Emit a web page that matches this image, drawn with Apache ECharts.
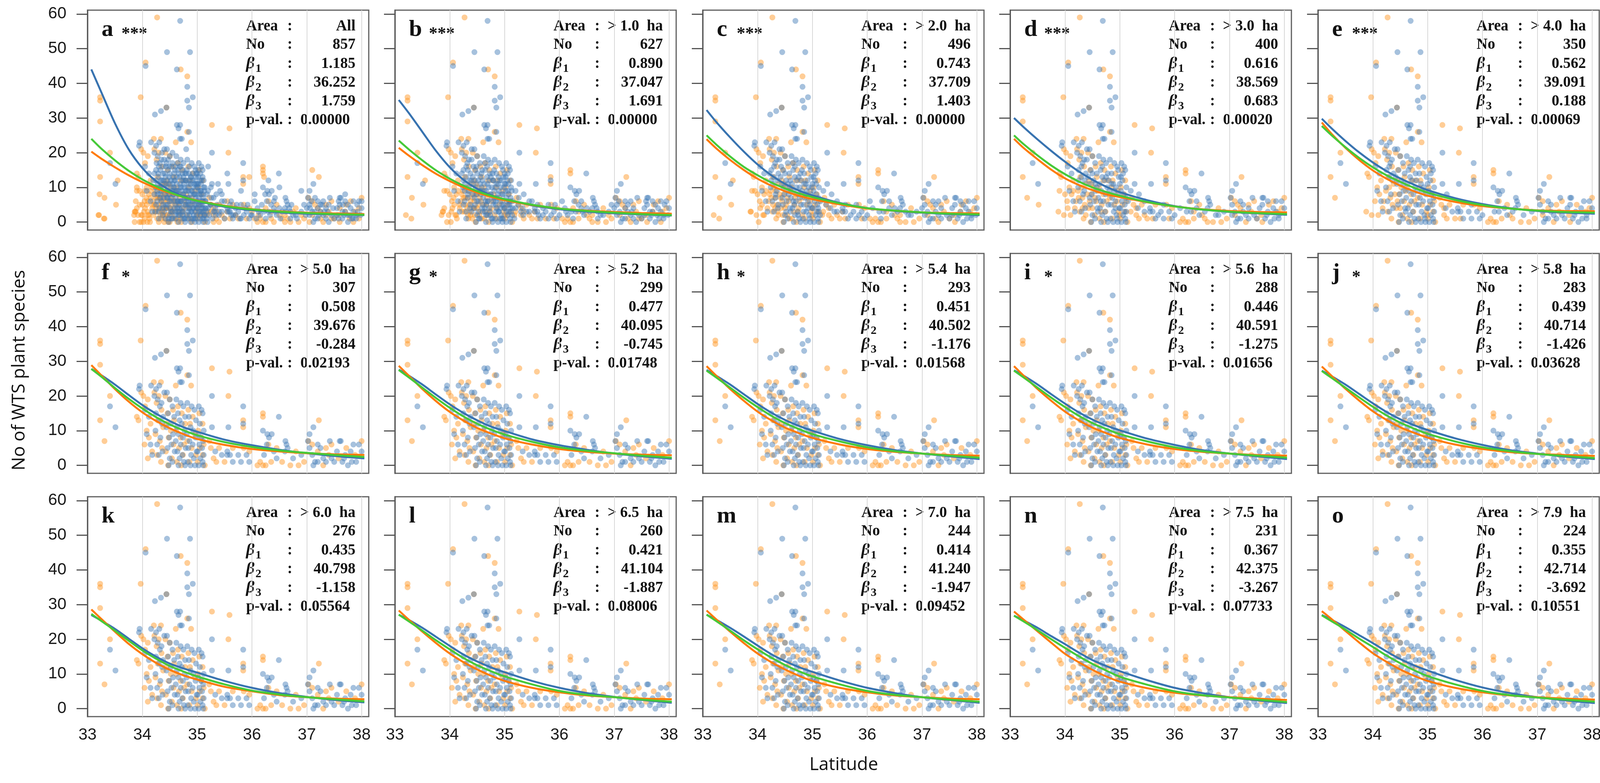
<!DOCTYPE html>
<html>
<head>
<meta charset="utf-8">
<script src="https://cdn.jsdelivr.net/npm/echarts@6/dist/echarts.min.js"></script>
<style>
html, body { margin: 0; padding: 0; background: #fff; }
#chart { width: 4124px; height: 2005px; }
</style>
</head>
<body>
<div id="chart"></div>
<script>
// panel texts
var panelLetters = ['a', 'b', 'c', 'd', 'e', 'f', 'g', 'h', 'i', 'j', 'k', 'l', 'm', 'n', 'o'];
var panelStars = ['***', '***', '***', '***', '***', '*', '*', '*', '*', '*', '', '', '', '', ''];
var areaLabels = ['All', '> 1.0  ha', '> 2.0  ha', '> 3.0  ha', '> 4.0  ha', '> 5.0  ha', '> 5.2  ha', '> 5.4  ha',
	'> 5.6  ha', '> 5.8  ha', '> 6.0  ha', '> 6.5  ha', '> 7.0  ha', '> 7.5  ha', '> 7.9  ha'];
var plotCounts = ['857', '627', '496', '400', '350', '307', '299', '293', '288', '283', '276', '260', '244', '231', '224'];
var beta1 = ['1.185', '0.890', '0.743', '0.616', '0.562', '0.508', '0.477', '0.451', '0.446', '0.439', '0.435', '0.421', '0.414', '0.367', '0.355'];
var beta2 = ['36.252', '37.047', '37.709', '38.569', '39.091', '39.676', '40.095', '40.502', '40.591', '40.714', '40.798', '41.104', '41.240', '42.375', '42.714'];
var beta3 = ['1.759', '1.691', '1.403', '0.683', '0.188', '-0.284', '-0.745', '-1.176', '-1.275', '-1.426', '-1.158', '-1.887', '-1.947', '-3.267', '-3.692'];
var pValues = ['0.00000', '0.00000', '0.00000', '0.00020', '0.00069', '0.02193', '0.01748', '0.01568', '0.01656', '0.03628', '0.05564', '0.08006', '0.09452', '0.07733', '0.10551'];

// axes
var xTicks = [33, 34, 35, 36, 37, 38];
var yTicks = [0, 10, 20, 30, 40, 50, 60];

// fitted curves at these latitudes
var fitLat = [33.07, 33.25, 33.5, 33.75, 34, 34.25, 34.5, 34.75, 35, 35.5, 36, 36.5, 37, 37.5, 38.05];
var fitBlue = [
	[44, 37.5, 28.5, 21, 15.6, 11.8, 9.2, 7.4, 6.1, 4.4, 3.4, 2.8, 2.4, 2.2, 2.0],
	[35.2, 31.5, 26, 20.5, 15.8, 12.2, 9.6, 7.8, 6.5, 4.8, 3.7, 3.0, 2.5, 2.2, 1.9],
	[32.3, 28.8, 24.4, 20.3, 16.6, 13.5, 11.0, 9.1, 7.7, 5.5, 4.0, 3.2, 2.7, 2.3, 2.0],
	[30, 27.3, 23.8, 20.5, 17.4, 14.6, 12.2, 10.2, 8.6, 6.3, 4.6, 3.6, 2.9, 2.5, 2.1],
	[29.8, 27, 23.4, 20.1, 17.2, 14.7, 12.6, 10.8, 9.2, 6.9, 5.2, 4.0, 3.2, 2.7, 2.4],
	[27.8, 26, 23.3, 20.3, 17.4, 14.9, 12.8, 11.0, 9.7, 7.4, 5.8, 4.5, 3.5, 2.7, 2.0],
	[27.6, 25.9, 23.3, 20.4, 17.6, 15.1, 13.0, 11.2, 9.9, 7.5, 5.8, 4.5, 3.4, 2.6, 1.9],
	[27.5, 25.8, 23.3, 20.5, 17.7, 15.2, 13.1, 11.4, 10.0, 7.6, 5.8, 4.4, 3.4, 2.6, 1.8],
	[27.4, 25.8, 23.3, 20.5, 17.8, 15.3, 13.2, 11.5, 10.1, 7.7, 5.9, 4.4, 3.4, 2.6, 1.8],
	[27.3, 25.7, 23.3, 20.6, 17.9, 15.4, 13.3, 11.6, 10.2, 7.8, 5.9, 4.4, 3.4, 2.5, 1.8],
	[27.0, 25.4, 23.0, 20.2, 17.4, 15.0, 13.0, 11.6, 10.4, 8.0, 6.0, 4.5, 3.4, 2.5, 1.8],
	[27.1, 25.6, 23.3, 20.7, 18.1, 15.6, 13.6, 11.9, 10.5, 8.0, 6.0, 4.5, 3.4, 2.5, 1.7],
	[27.1, 25.6, 23.3, 20.8, 18.2, 15.7, 13.7, 12.0, 10.6, 8.1, 6.0, 4.5, 3.3, 2.5, 1.7],
	[26.8, 25.4, 23.3, 20.9, 18.6, 16.2, 14.0, 12.3, 10.8, 8.2, 6.0, 4.5, 3.3, 2.4, 1.6],
	[27.0, 25.6, 23.5, 21.2, 18.9, 16.5, 14.3, 12.5, 11.0, 8.3, 6.1, 4.5, 3.3, 2.4, 1.6]
];
var fitGreen = [
	[24, 21.2, 17.8, 14.8, 12.3, 10.3, 8.6, 7.2, 6.1, 4.6, 3.6, 3.0, 2.6, 2.3, 2.1],
	[23.5, 21, 17.8, 14.9, 12.5, 10.5, 8.9, 7.6, 6.6, 5.0, 3.9, 3.2, 2.7, 2.3, 2.0],
	[25, 22.3, 18.9, 15.9, 13.5, 11.4, 9.7, 8.3, 7.2, 5.4, 4.0, 3.3, 2.8, 2.4, 2.2],
	[25, 22.4, 19.2, 16.3, 13.8, 11.7, 10.0, 8.7, 7.6, 5.8, 4.5, 3.6, 3.0, 2.6, 2.3],
	[27.7, 25, 21.6, 18.5, 15.8, 13.5, 11.6, 9.9, 8.5, 6.4, 4.9, 3.9, 3.3, 2.9, 2.7],
	[27.8, 25.6, 22.3, 19.2, 16.4, 13.9, 11.8, 10.1, 8.7, 6.7, 5.3, 4.3, 3.6, 3.0, 2.4],
	[27.5, 25.4, 22.4, 19.4, 16.6, 14.1, 12.0, 10.3, 8.9, 6.8, 5.2, 4.2, 3.5, 2.8, 2.2],
	[27.3, 25.3, 22.4, 19.5, 16.8, 14.3, 12.2, 10.5, 9.0, 6.9, 5.2, 4.1, 3.4, 2.8, 2.2],
	[27.3, 25.3, 22.4, 19.5, 16.8, 14.3, 12.2, 10.5, 9.0, 6.9, 5.2, 4.1, 3.4, 2.8, 2.2],
	[27.2, 25.2, 22.4, 19.6, 16.9, 14.4, 12.3, 10.6, 9.1, 6.9, 5.2, 4.1, 3.3, 2.7, 2.1],
	[27.3, 25.3, 22.5, 19.6, 16.8, 14.4, 12.3, 10.7, 9.3, 7.0, 5.2, 4.1, 3.3, 2.7, 2.1],
	[27.1, 25.2, 22.5, 19.7, 17.1, 14.6, 12.5, 10.8, 9.3, 7.0, 5.1, 4.0, 3.3, 2.6, 2.0],
	[27.1, 25.2, 22.5, 19.7, 17.1, 14.7, 12.6, 10.8, 9.3, 7.0, 5.1, 4.0, 3.3, 2.6, 2.0],
	[26.8, 25.1, 22.6, 20.0, 17.5, 15.1, 12.9, 11.0, 9.2, 6.9, 5.0, 3.9, 3.2, 2.6, 1.9],
	[26.9, 25.2, 22.8, 20.2, 17.8, 15.3, 13.1, 11.1, 9.4, 7.0, 5.1, 3.9, 3.2, 2.6, 2.0]
];
var fitOrange = [
	[20.3, 18.3, 15.8, 13.5, 11.5, 9.8, 8.4, 7.2, 6.2, 4.7, 3.7, 3.1, 2.7, 2.5, 2.3],
	[21.4, 19.2, 16.4, 13.9, 11.8, 10.0, 8.5, 7.3, 6.3, 4.9, 3.9, 3.3, 2.9, 2.6, 2.4],
	[23.9, 21.2, 17.9, 15.0, 12.5, 10.5, 8.9, 7.6, 6.6, 5.1, 3.9, 3.3, 2.8, 2.6, 2.5],
	[24, 21.3, 18.1, 15.1, 12.6, 10.7, 9.2, 8.0, 7.2, 5.7, 4.5, 3.7, 3.2, 2.9, 2.8],
	[28.7, 25.4, 21.4, 17.9, 14.9, 12.5, 10.5, 8.9, 7.6, 5.8, 4.6, 3.9, 3.4, 3.2, 3.1],
	[28.9, 26.0, 22.0, 18.4, 15.3, 12.8, 10.7, 9.0, 7.6, 5.9, 4.7, 4.0, 3.5, 3.2, 3.0],
	[28.7, 25.9, 22.0, 18.5, 15.4, 12.9, 10.8, 9.2, 7.8, 6.0, 4.7, 3.9, 3.4, 3.1, 2.9],
	[28.6, 25.8, 22.0, 18.6, 15.5, 13.0, 10.9, 9.3, 7.9, 6.0, 4.7, 3.9, 3.4, 3.0, 2.8],
	[28.6, 25.8, 22.0, 18.6, 15.5, 13.0, 10.9, 9.3, 7.9, 6.0, 4.7, 3.9, 3.4, 3.0, 2.8],
	[28.5, 25.8, 22.1, 18.7, 15.6, 13.1, 11.0, 9.4, 8.0, 6.0, 4.7, 3.8, 3.3, 3.0, 2.7],
	[28.6, 25.9, 22.2, 18.7, 15.7, 13.2, 11.2, 9.6, 8.4, 6.3, 5.0, 3.9, 3.3, 2.9, 2.7],
	[28.3, 25.7, 22.2, 18.9, 15.9, 13.4, 11.3, 9.5, 8.0, 6.0, 4.7, 3.8, 3.3, 2.9, 2.7],
	[28.3, 25.7, 22.2, 18.9, 15.9, 13.4, 11.3, 9.5, 8.0, 6.0, 4.7, 3.8, 3.3, 2.9, 2.7],
	[28.0, 25.6, 22.3, 19.0, 15.8, 13.4, 11.2, 9.3, 7.8, 5.9, 4.6, 3.8, 3.3, 2.9, 2.5],
	[28.1, 25.8, 22.4, 19.1, 16.0, 13.5, 11.3, 9.5, 8.0, 6.0, 4.7, 3.8, 3.3, 2.9, 2.6]
];

// sites kept in every panel (area > 5 ha)
var coreBlue = [
	[34.69, 58], [34.45, 49], [34.87, 49], [34.06, 45], [34.63, 44], [34.82, 39], [34.92, 36], [34.82, 35], [34.85, 33],
	[34.23, 31], [34.34, 32], [34.44, 33], [34.63, 28], [34.69, 28], [34.66, 27], [34.85, 26], [34.69, 24], [34.72, 24],
	[33.95, 23], [33.94, 22], [34.16, 23], [34.25, 22], [34.31, 23], [35.27, 20], [33.41, 17], [33.51, 11], [35.84, 17],
	[36.49, 14], [35.27, 11], [35.57, 11], [35.84, 12], [36.20, 10], [36.28, 9], [36.36, 9], [36.31, 8], [37.12, 11],
	[37.05, 9], [36.61, 7], [36.63, 6],
	[34.05, 16], [34.12, 14], [34.08, 9], [34.15, 6], [34.18, 3],
	[34.22, 20], [34.28, 19], [34.35, 18], [34.32, 17], [34.25, 15], [34.38, 14], [34.3, 13], [34.36, 12], [34.24, 10],
	[34.33, 8], [34.27, 6], [34.37, 4], [34.3, 3], [34.4, 21],
	[34.45, 21], [34.5, 19], [34.55, 17], [34.47, 15], [34.58, 14], [34.52, 12], [34.44, 11], [34.56, 9], [34.49, 8],
	[34.53, 6], [34.46, 5], [34.59, 4], [34.5, 2], [34.55, 1], [34.48, 0],
	[34.62, 19], [34.7, 18], [34.75, 17], [34.65, 15], [34.78, 14], [34.68, 13], [34.72, 12], [34.63, 11], [34.77, 10],
	[34.66, 9], [34.74, 8], [34.61, 7], [34.7, 6], [34.79, 5], [34.64, 4], [34.73, 3], [34.68, 2], [34.76, 1], [34.66, 0], [34.78, 0],
	[34.82, 18], [34.9, 17], [34.95, 16], [34.85, 14], [34.98, 13], [34.88, 11], [34.93, 10], [34.81, 9], [34.97, 8],
	[34.86, 7], [34.92, 6], [34.84, 5], [34.99, 4], [34.89, 3], [34.94, 2], [34.83, 1], [34.96, 0], [34.88, 0],
	[35.03, 17], [35.08, 16], [35.1, 15], [35.05, 12], [35.12, 10], [35.02, 9], [35.07, 8], [35.11, 7], [35.04, 6],
	[35.09, 5], [35.01, 4], [35.12, 3], [35.06, 2], [35.1, 1], [35.03, 0], [35.11, 0],
	[35.33, 4], [35.45, 3], [35.55, 3], [35.55, 4], [35.6, 3], [35.75, 3], [35.8, 1], [35.9, 3], [35.95, 1], [35.65, 1],
	[36.22, 3], [36.27, 6], [36.4, 4], [36.45, 2], [36.6, 4], [36.65, 5], [36.75, 2], [36.9, 3], [37.02, 7], [37.05, 5],
	[37.1, 3], [37.15, 1], [37.2, 6], [37.25, 5], [37.3, 2], [37.35, 1], [37.45, 2], [37.42, 7], [37.55, 4], [37.6, 7],
	[37.62, 7], [37.65, 1], [37.7, 3], [37.75, 0], [37.8, 4], [37.85, 6], [37.9, 1], [37.95, 6], [38.0, 4], [37.5, 1],
	[37.68, 2], [37.82, 1], [37.12, 0], [37.2, 1]
];
var coreOrange = [
	[34.27, 59], [34.06, 46], [34.70, 44], [34.82, 42], [33.23, 36], [33.23, 35], [33.97, 36], [34.44, 33], [33.23, 29],
	[35.27, 28], [35.59, 27], [34.82, 26], [34.21, 24], [34.34, 24], [34.89, 23], [34.61, 23], [33.41, 20], [33.98, 21],
	[35.57, 20], [33.23, 13], [33.31, 7], [33.90, 14], [33.93, 13], [36.20, 15], [36.20, 14], [37.22, 13], [35.84, 13], [35.84, 11],
	[34.02, 20], [34.1, 19], [34.05, 17], [34.15, 12], [34.08, 10], [34.12, 8], [34.04, 6], [34.18, 4], [34.1, 2],
	[34.22, 21], [34.3, 20], [34.26, 18], [34.35, 16], [34.28, 13], [34.38, 11], [34.24, 9], [34.32, 7], [34.36, 5], [34.27, 3], [34.34, 1],
	[34.42, 20], [34.5, 19], [34.56, 16], [34.46, 15], [34.58, 13], [34.44, 12], [34.52, 10], [34.48, 8], [34.57, 6],
	[34.43, 4], [34.54, 2], [34.47, 0],
	[34.65, 17], [34.72, 15], [34.78, 12], [34.62, 10], [34.7, 8], [34.76, 6], [34.67, 5], [34.74, 3], [34.63, 1], [34.71, 0],
	[34.84, 16], [34.92, 14], [34.87, 12], [34.96, 9], [34.82, 7], [34.9, 5], [34.98, 3], [34.86, 1],
	[35.04, 15], [35.1, 12], [35.02, 10], [35.08, 8], [35.12, 6], [35.05, 5], [35.1, 3], [35.01, 1], [35.14, 0],
	[35.22, 7], [35.25, 5], [35.3, 2], [35.35, 1], [35.4, 5], [35.5, 1], [35.65, 5], [35.85, 5], [35.95, 4], [36.1, 0],
	[36.15, 1], [36.2, 0], [36.3, 6], [36.35, 1], [36.45, 5], [36.55, 1], [36.7, 0], [36.8, 4], [36.85, 0], [36.95, 1],
	[37.03, 7], [37.1, 6], [37.2, 4], [37.3, 0], [37.4, 3], [37.45, 6], [37.58, 2], [37.72, 5], [37.88, 3], [38.0, 7],
	[36.25, 0], [37.35, 5]
];

// smaller sites, dropped as the area threshold rises
var tierEBlue = [[34.3, 16], [34.42, 13], [34.55, 11], [34.68, 16], [34.8, 12], [34.9, 9], [35.0, 11], [35.06, 14], [34.6, 3],
	[34.95, 1], [35.35, 8], [35.8, 5], [36.3, 3], [37.25, 3], [37.6, 5], [36.0, 2], [36.55, 3], [37.9, 2]];
var tierEOrange = [[33.88, 3], [33.98, 2], [34.2, 6], [34.3, 10], [34.4, 8], [34.45, 6], [34.5, 4], [34.6, 9], [34.7, 12],
	[34.85, 10], [35.3, 4], [35.6, 1], [36.5, 2], [37.1, 2], [37.6, 0], [37.95, 4], [35.0, 2]];
var tierDBlue = [[34.25, 12], [34.35, 9], [34.45, 7], [34.5, 14], [34.58, 10], [34.65, 6], [34.75, 13], [34.85, 11], [34.92, 4],
	[35.02, 13], [35.08, 3], [35.15, 6], [35.45, 6], [35.7, 2], [36.1, 4], [36.4, 6], [36.8, 2], [37.05, 2], [37.35, 4],
	[37.7, 6], [37.85, 3], [35.2, 9], [34.97, 15], [34.4, 18]];
var tierDOrange = [[33.9, 9], [34.0, 8], [34.05, 4], [34.15, 9], [34.25, 7], [34.32, 4], [34.38, 2], [34.48, 11], [34.55, 7],
	[34.66, 3], [34.8, 8], [34.95, 6], [35.2, 3], [35.45, 2], [35.9, 1], [36.35, 3], [36.6, 0], [37.15, 5], [37.5, 1],
	[37.8, 6], [33.52, 5]];
var tierCBlue = [[34.22, 14], [34.28, 11], [34.33, 7], [34.38, 5], [34.43, 16], [34.47, 10], [34.52, 3], [34.57, 8], [34.6, 12],
	[34.64, 17], [34.67, 5], [34.71, 10], [34.74, 2], [34.77, 7], [34.81, 15], [34.84, 3], [34.88, 8], [34.91, 12], [34.95, 5],
	[34.99, 10], [35.03, 7], [35.07, 11], [35.11, 4], [35.14, 2], [35.25, 5], [35.4, 3], [35.6, 5], [35.85, 2], [36.05, 6],
	[36.25, 1], [36.5, 4], [36.7, 3], [37.0, 4], [37.3, 6], [37.55, 2], [37.75, 5], [37.98, 2]];
var tierCOrange = [[33.2, 2], [33.3, 1], [33.55, 12], [33.87, 3], [33.95, 9], [34.02, 0], [34.08, 5], [34.12, 2], [34.22, 8],
	[34.28, 5], [34.33, 9], [34.37, 3], [34.42, 7], [34.46, 2], [34.52, 5], [34.58, 1], [34.68, 7], [34.75, 4], [34.82, 2],
	[34.9, 7], [35.0, 4], [35.18, 2], [35.55, 3], [36.05, 1], [36.6, 2], [37.25, 1], [37.7, 3]];
var tierBBlue = [[34.25, 5], [34.3, 1], [34.35, 10], [34.4, 3], [34.42, 8], [34.46, 12], [34.5, 6], [34.53, 1], [34.56, 13],
	[34.6, 5], [34.63, 9], [34.66, 2], [34.69, 11], [34.72, 4], [34.75, 8], [34.78, 1], [34.8, 6], [34.83, 10], [34.86, 4],
	[34.89, 13], [34.92, 1], [34.95, 8], [34.98, 5], [35.0, 14], [35.03, 3], [35.06, 9], [35.09, 6], [35.12, 12], [35.15, 4],
	[35.18, 1], [35.3, 3], [35.5, 6], [35.7, 4], [36.15, 2], [36.35, 5], [36.7, 1], [36.95, 5], [37.2, 4], [37.4, 0],
	[37.65, 3], [37.92, 5], [34.27, 9], [34.33, 15], [34.39, 12], [34.44, 4], [34.49, 16], [34.54, 9], [34.59, 15],
	[34.64, 3], [34.69, 6], [34.73, 14], [34.79, 12], [34.84, 6], [34.9, 3], [34.94, 12], [34.97, 1], [35.02, 11],
	[35.07, 5], [35.13, 9], [35.2, 4], [35.26, 7], [35.34, 2], [35.62, 2], [35.92, 5], [36.12, 3], [36.42, 3], [36.68, 4],
	[37.08, 6], [37.32, 3], [37.58, 6], [37.78, 2]];
var tierBOrange = [[33.85, 2], [33.9, 4], [33.95, 0], [34.03, 3], [34.07, 7], [34.13, 1], [34.18, 5], [34.23, 3], [34.28, 7],
	[34.33, 2], [34.38, 6], [34.41, 1], [34.45, 4], [34.5, 8], [34.55, 3], [34.62, 5], [34.7, 2], [34.85, 4], [35.05, 2],
	[35.35, 3], [35.75, 1], [36.25, 4], [36.9, 2], [37.45, 1], [37.85, 0]];
var tierABlue = [[34.28, 8], [34.31, 4], [34.34, 12], [34.37, 2], [34.39, 7], [34.41, 14], [34.43, 5], [34.45, 9], [34.48, 1],
	[34.5, 11], [34.52, 7], [34.54, 3], [34.57, 10], [34.59, 6], [34.61, 1], [34.63, 13], [34.65, 8], [34.67, 3], [34.69, 10],
	[34.71, 6], [34.73, 1], [34.75, 12], [34.77, 5], [34.79, 9], [34.81, 2], [34.83, 7], [34.85, 12], [34.87, 5], [34.89, 1],
	[34.91, 9], [34.93, 4], [34.95, 11], [34.97, 7], [34.99, 2], [35.01, 10], [35.03, 5], [35.05, 1], [35.07, 9], [35.09, 4],
	[35.11, 8], [35.13, 2], [35.15, 6], [35.17, 3], [35.19, 0], [34.74, 15], [34.86, 16], [34.98, 14], [35.1, 13], [34.6, 16],
	[34.47, 18], [34.36, 20], [34.55, 20], [34.8, 21], [35.2, 16], [35.25, 10], [35.3, 7], [35.38, 11], [35.45, 8], [35.55, 14],
	[35.62, 6], [35.8, 9], [36.05, 8], [36.3, 12], [36.5, 10], [36.9, 9], [37.15, 7], [37.4, 5], [37.7, 8], [38.0, 6],
	[34.2, 12], [34.22, 8], [34.24, 3], [34.26, 17], [34.29, 14], [34.32, 10], [34.35, 6], [34.38, 16], [34.4, 11], [34.42, 1],
	[34.44, 17], [34.46, 7], [34.49, 13], [34.51, 4], [34.53, 16], [34.56, 8], [34.58, 12], [34.6, 2], [34.62, 9], [34.64, 6],
	[34.66, 14], [34.68, 4], [34.7, 16], [34.72, 9], [34.74, 3], [34.76, 11], [34.78, 7], [34.8, 14], [34.82, 4], [34.84, 9],
	[34.86, 2], [34.88, 13], [34.9, 6], [34.92, 14], [34.94, 8], [34.96, 3], [34.98, 11], [35.0, 6], [35.02, 15], [35.04, 8],
	[35.06, 3], [35.08, 12], [35.1, 6], [35.12, 1], [35.14, 10], [35.16, 4], [35.18, 8], [35.22, 2], [35.24, 5], [35.28, 1],
	[35.32, 3], [35.36, 5], [35.4, 2], [35.42, 9], [35.5, 1], [35.58, 3], [35.66, 2], [35.72, 5], [35.78, 1], [35.88, 4],
	[35.98, 2], [36.08, 1], [36.18, 5], [36.24, 8], [36.33, 2], [36.42, 7], [36.52, 1], [36.62, 3], [36.72, 5], [36.82, 1],
	[36.98, 2], [37.06, 4], [37.14, 3], [37.22, 2], [37.28, 5], [37.38, 3], [37.48, 4], [37.58, 1], [37.66, 5], [37.74, 2],
	[37.84, 1], [37.93, 3]];
var tierAOrange = [[33.22, 8], [33.21, 2], [33.31, 1], [33.86, 0], [33.98, 0], [34.09, 0], [33.88, 6], [33.92, 2], [34.0, 5],
	[34.04, 1], [34.1, 3], [34.15, 7], [34.2, 2], [34.25, 4], [34.3, 0], [34.34, 6], [34.38, 8], [34.4, 4], [34.44, 2],
	[34.48, 6], [34.33, 10], [34.42, 11], [34.5, 0], [34.58, 4], [34.64, 0], [34.9, 0], [35.12, 2], [35.25, 3], [35.4, 0],
	[35.7, 2], [36.0, 3], [36.4, 0], [36.75, 3], [37.05, 0], [37.35, 2], [37.6, 4], [37.95, 1], [36.22, 13], [36.2, 16],
	[35.95, 13], [37.1, 15], [33.86, 3], [33.9, 10], [33.95, 5], [34.0, 2], [34.05, 9], [34.1, 6], [34.14, 0], [34.18, 10],
	[34.22, 5], [34.27, 1], [34.31, 7], [34.36, 3], [34.4, 0], [34.45, 9], [34.52, 3], [34.6, 6], [34.7, 1], [34.8, 5],
	[35.3, 0], [35.55, 6], [36.12, 2], [36.65, 1], [37.25, 3], [37.78, 1]];

var blueTiers = [tierABlue, tierBBlue, tierCBlue, tierDBlue, tierEBlue];
var orangeTiers = [tierAOrange, tierBOrange, tierCOrange, tierDOrange, tierEOrange];

var colLeft = [224, 1011, 1799, 2586, 3374];
var rowTop = [26, 649, 1272];
var boxW = 720, boxH = 563;

var blueDot = 'rgba(62, 122, 182, 0.58)';
var orangeDot = 'rgba(255, 150, 35, 0.6)';
var blueLine = '#3873b0';
var orangeLine = '#ff7a08';
var greenLine = '#46c938';
var serif = '"Liberation Serif", "Times New Roman", serif';

function panelPoints(i, core, tiers) {
	var pts = core.slice();
	for (var t = i; t < tiers.length; t++) {
		pts = pts.concat(tiers[t]);
	}
	return pts;
}

function fitData(arr) {
	return fitLat.map(function(x, k) {
		return [x, arr[k]];
	});
}

function txt(x, y, text, font, align, vAlign) {
	return {
		type: 'text',
		x: x,
		y: y,
		silent: true,
		style: {
			text: text,
			font: font,
			fill: '#111',
			align: align || 'left',
			verticalAlign: vAlign || 'middle',
			textAlign: align || 'left',
			textVerticalAlign: vAlign || 'middle'
		}
	};
}

var grids = [], xAxes = [], yAxes = [], series = [], graphics = [];
var rowOffsets = [42, 89, 138, 186, 234, 282];

for (var i = 0; i < 15; i++) {
	var col = i % 5, row = Math.floor(i / 5);
	var L = colLeft[col], T = rowTop[row];
	grids.push({
		left: L, top: T, width: boxW, height: boxH,
		show: true, borderColor: '#5e5e5e', borderWidth: 3, backgroundColor: 'transparent'
	});
	xAxes.push({
		gridIndex: i, type: 'value', min: 33, max: 38.13, interval: 1,
		axisLine: { show: false },
		axisTick: { show: false },
		axisLabel: {
			show: row === 2, customValues: xTicks, margin: 26,
			fontSize: 42, color: '#1a1a1a', fontFamily: 'Liberation Sans'
		},
		splitLine: { show: true, showMinLine: false, showMaxLine: false, lineStyle: { color: '#d8d8d8', width: 2 } }
	});
	yAxes.push({
		gridIndex: i, type: 'value', min: -2.3, max: 61.1,
		axisLine: { show: true, lineStyle: { color: '#555', width: 3 } },
		axisTick: { show: true, customValues: yTicks, length: 28, lineStyle: { color: '#555', width: 3 } },
		axisLabel: {
			show: col === 0, customValues: yTicks, margin: 54,
			fontSize: 42, color: '#1a1a1a', fontFamily: 'Liberation Sans'
		},
		splitLine: { show: false }
	});
	series.push({
		type: 'scatter', xAxisIndex: i, yAxisIndex: i, silent: true,
		data: panelPoints(i, coreOrange, orangeTiers), symbolSize: 15,
		itemStyle: { color: orangeDot }
	});
	series.push({
		type: 'scatter', xAxisIndex: i, yAxisIndex: i, silent: true,
		data: panelPoints(i, coreBlue, blueTiers), symbolSize: 15,
		itemStyle: { color: blueDot }
	});
	[[fitBlue, blueLine], [fitOrange, orangeLine], [fitGreen, greenLine]].forEach(function(f) {
		series.push({
			type: 'line', xAxisIndex: i, yAxisIndex: i, silent: true, z: 5,
			data: fitData(f[0][i]), smooth: 0.3, showSymbol: false,
			lineStyle: { color: f[1], width: 5 }
		});
	});

	// panel letter, stars and the parameter table
	graphics.push(txt(L + 36, T + 50, panelLetters[i], 'bold 60px ' + serif));
	if (panelStars[i]) {
		graphics.push(txt(L + 87, T + 62, panelStars[i], 'bold 44px ' + serif));
	}
	var labX = L + 406, colonX = L + 518, valX = L + 686;
	var labels = ['Area', 'No'];
	var values = [areaLabels[i], plotCounts[i], beta1[i], beta2[i], beta3[i]];
	for (var r = 0; r < 6; r++) {
		var y = T + rowOffsets[r];
		if (r < 2) {
			graphics.push(txt(labX, y, labels[r], 'bold 39px ' + serif));
		} else if (r < 5) {
			graphics.push(txt(labX, y, 'β', 'italic bold 42px ' + serif));
			graphics.push(txt(labX + 24, y + 12, String(r - 1), 'bold 30px ' + serif));
		} else {
			graphics.push(txt(labX, y, 'p-val.', 'bold 39px ' + serif));
		}
		graphics.push(txt(colonX, y, ':', 'bold 39px ' + serif, 'center'));
		if (r < 5) {
			graphics.push(txt(valX, y, values[r], 'bold 39px ' + serif, 'right'));
		} else {
			graphics.push(txt(L + 545, y, pValues[i], 'bold 39px ' + serif));
		}
	}
}

// axis titles
graphics.push(txt(2160, 1959, 'Latitude', '46px "Open Sans"', 'center'));
var yTitle = txt(50, 948, 'No of WTS plant species', '46px "Open Sans"', 'center');
yTitle.rotation = Math.PI / 2;
graphics.push(yTitle);

var chart = echarts.init(document.getElementById('chart'));
chart.setOption({
	animation: false,
	backgroundColor: '#fff',
	grid: grids,
	xAxis: xAxes,
	yAxis: yAxes,
	series: series,
	graphic: { elements: graphics }
});

window.onresize = function() {
	chart.resize();
};
</script>
</body>
</html>
